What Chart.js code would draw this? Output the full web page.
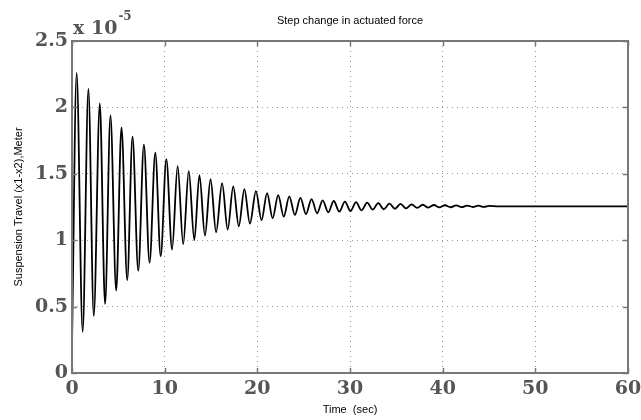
<!DOCTYPE html>
<html><head><meta charset="utf-8">
<script src="https://cdn.jsdelivr.net/npm/chart.js@4"></script>
<style>html,body{margin:0;padding:0;background:#fff}#wrap{width:641px;height:420px}</style>
</head><body><div id="wrap"><canvas id="c" width="641" height="420"></canvas></div>
<script>
// Time (sec) of the read-off extrema of the response
const timeSec = [0, 0.5, 1.15, 1.77, 2.35, 3.0, 3.57, 4.15, 4.77, 5.34, 5.96, 6.53, 7.15, 7.76, 8.37, 8.99, 9.57,
  10.18, 10.8, 11.4, 12.0, 12.6, 13.2, 13.75, 14.35, 14.95, 15.55, 16.2, 16.8, 17.4, 18.0, 18.6, 19.2, 19.85,
  20.45, 21.05, 21.65, 22.25, 22.85, 23.45, 24.05, 24.65, 25.25, 25.85, 26.45, 27.05, 27.65, 28.25, 28.85, 29.45,
  30.05, 30.65, 31.25, 31.85, 32.45, 33.05, 33.65, 34.25, 34.85, 35.45, 36.05, 36.65, 37.25, 37.85, 38.45, 39.05,
  39.65, 40.25, 40.85, 41.45, 42.05, 42.65, 43.25, 43.85, 44.45, 45.05, 46, 50, 55, 60];
// Suspension travel in units of 1e-5 m
const travelE5 = [0.22, 2.26, 0.31, 2.14, 0.43, 2.03, 0.52, 1.94, 0.62, 1.85, 0.70, 1.78, 0.77, 1.72, 0.83, 1.66, 0.88,
  1.61, 0.93, 1.56, 0.97, 1.52, 1.0, 1.49, 1.035, 1.46, 1.06, 1.43, 1.08, 1.405, 1.105, 1.385, 1.125, 1.37,
  1.15, 1.355, 1.165, 1.34, 1.178, 1.33, 1.19, 1.318, 1.197, 1.31, 1.203, 1.30, 1.21, 1.295, 1.215, 1.29,
  1.22, 1.286, 1.225, 1.283, 1.23, 1.279, 1.233, 1.276, 1.237, 1.273, 1.24, 1.27, 1.243, 1.267, 1.245, 1.265,
  1.247, 1.263, 1.248, 1.262, 1.249, 1.261, 1.25, 1.26, 1.251, 1.259, 1.255, 1.255, 1.255, 1.255];
const xTicks = [0, 10, 20, 30, 40, 50, 60];
const yTicks = [0, 0.5, 1, 1.5, 2, 2.5];
const titleText = 'Step change in actuated force';
const xLabel = 'Time  (sec)';
const yLabel = 'Suspension Travel (x1-x2),Meter';
const exponentBase = 'x 10';
const exponentPower = '-5';

const frameColor = '#777';
const serifFam = '"DejaVu Serif", "Liberation Serif", serif';
const tickFont = {family: serifFam, size: 19, weight: 'bold'};

const framePlugin = {
  id: 'frame',
  afterDraw(chart) {
    const {ctx, chartArea: a, scales} = chart;
    ctx.save();
    ctx.strokeStyle = frameColor;
    ctx.lineWidth = 2;
    ctx.strokeRect(a.left, a.top, a.right - a.left, a.bottom - a.top);
    ctx.lineWidth = 1.5;
    ctx.beginPath();
    const tl = 5;
    xTicks.forEach(v => {
      const px = Math.round(scales.x.getPixelForValue(v)) + 0.5;
      ctx.moveTo(px, a.bottom); ctx.lineTo(px, a.bottom - tl);
      ctx.moveTo(px, a.top); ctx.lineTo(px, a.top + tl);
    });
    yTicks.forEach(v => {
      const py = Math.round(scales.y.getPixelForValue(v)) + 0.5;
      ctx.moveTo(a.left, py); ctx.lineTo(a.left + tl, py);
      ctx.moveTo(a.right, py); ctx.lineTo(a.right - tl, py);
    });
    ctx.stroke();
    // title
    ctx.fillStyle = '#000';
    ctx.font = '11px "Liberation Sans", Arial, sans-serif';
    ctx.textAlign = 'center';
    ctx.textBaseline = 'middle';
    ctx.fillText(titleText, (a.left + a.right) / 2, 21);
    // exponent
    ctx.fillStyle = '#555';
    ctx.textAlign = 'left';
    ctx.textBaseline = 'alphabetic';
    ctx.font = 'bold 19px ' + serifFam;
    ctx.fillText(exponentBase, a.left + 1, 34);
    const w = ctx.measureText(exponentBase).width;
    ctx.font = 'bold 12px ' + serifFam;
    ctx.fillText(exponentPower, a.left + 1 + w + 1, 20);
    ctx.restore();
  }
};

new Chart(document.getElementById('c'), {
  type: 'line',
  data: {
    datasets: [{
      data: timeSec.map((t, i) => ({x: t, y: travelE5[i]})),
      borderColor: '#000',
      borderWidth: 1.8,
      pointRadius: 0,
      cubicInterpolationMode: 'monotone',
      fill: false
    }]
  },
  options: {
    responsive: false,
    animation: false,
    devicePixelRatio: 1,
    layout: {padding: {top: 41, right: 13, bottom: 0, left: 0}},
    plugins: {legend: {display: false}, tooltip: {enabled: false}, title: {display: false}},
    scales: {
      x: {
        type: 'linear', min: 0, max: 60,
        afterBuildTicks: s => { s.ticks = xTicks.map(v => ({value: v})); },
        afterFit: s => { s.height = 47; s.paddingLeft = 0; s.paddingRight = 0; },
        grid: {color: '#999', lineWidth: 1, drawTicks: false},
        border: {display: false, dash: [1, 4]},
        ticks: {font: tickFont, color: '#555', padding: 5, maxRotation: 0},
        title: {display: true, text: xLabel, color: '#000', padding: {top: 0, bottom: 3},
          font: {family: '"Liberation Sans", Arial, sans-serif', size: 11}}
      },
      y: {
        type: 'linear', min: 0, max: 2.5,
        afterBuildTicks: s => { s.ticks = yTicks.map(v => ({value: v})); },
        afterFit: s => { s.width = 72; s.paddingTop = 0; s.paddingBottom = 0; },
        grid: {color: '#999', lineWidth: 1, drawTicks: false},
        border: {display: false, dash: [1, 4]},
        ticks: {font: tickFont, color: '#555', padding: 4, callback: v => String(v)},
        title: {display: true, text: yLabel, color: '#000', padding: {top: 12, bottom: 0},
          font: {family: '"Liberation Sans", Arial, sans-serif', size: 11}}
      }
    }
  },
  plugins: [framePlugin]
});
</script>
</body></html>
